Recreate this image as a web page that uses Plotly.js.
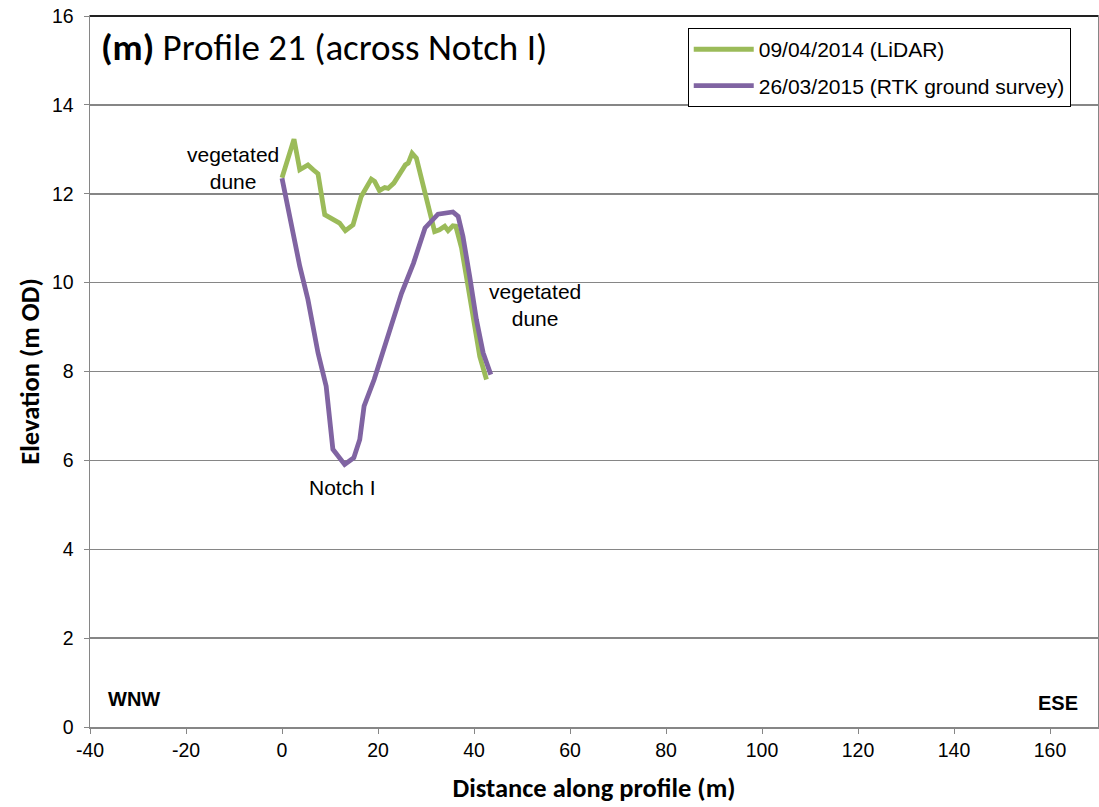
<!DOCTYPE html>
<html>
<head>
<meta charset="utf-8">
<script src="https://cdn.plot.ly/plotly-3.0.1.min.js"></script>
<style>html,body{margin:0;padding:0;background:#fff;}#chart{width:1099px;height:807px;}</style>
</head>
<body>
<div id="chart"></div>
<script>
// LiDAR profile 09/04/2014
const lidarDist = [0, 2.5, 3.7, 5.4, 6.5, 7.5, 8.9, 11.0, 12.0, 13.2, 14.8, 16.5, 18.6, 19.3, 20.3, 21.4, 22.1, 23.3, 24.7, 25.7, 26.3, 27.1, 28.0, 29.4, 30.8, 31.8, 32.8, 33.9, 34.6, 35.6, 36.2, 37.4, 38.75, 40.1, 41.2, 42.6];
const lidarElev = [12.36, 13.23, 12.54, 12.65, 12.54, 12.45, 11.53, 11.38, 11.34, 11.17, 11.3, 11.94, 12.33, 12.28, 12.07, 12.14, 12.12, 12.24, 12.5, 12.65, 12.69, 12.91, 12.8, 12.16, 11.57, 11.15, 11.19, 11.27, 11.17, 11.28, 11.27, 10.78, 9.92, 9.02, 8.34, 7.82];
// RTK ground survey 26/03/2015
const rtkDist = [0, 1.95, 3.7, 5.4, 7.5, 9.2, 10.6, 13.05, 14.96, 16.2, 17.1, 19.2, 21.75, 24.9, 27.4, 29.8, 32.5, 35.6, 36.7, 37.7, 39.1, 40.5, 41.9, 43.5];
const rtkElev = [12.35, 11.27, 10.37, 9.62, 8.42, 7.67, 6.25, 5.91, 6.06, 6.47, 7.22, 7.82, 8.72, 9.76, 10.44, 11.23, 11.54, 11.59, 11.49, 11.04, 10.14, 9.17, 8.42, 7.93];
const seriesNames = ["09/04/2014 (LiDAR)", "26/03/2015 (RTK ground survey)"];
const xTicks = [-40, -20, 0, 20, 40, 60, 80, 100, 120, 140, 160];
const yTicks = [0, 2, 4, 6, 8, 10, 12, 14, 16];

const traces = [
  {x: lidarDist, y: lidarElev, name: seriesNames[0], legendgroup: 'a', mode: 'lines', line: {color: '#9BBB59', width: 4.8}},
  {x: rtkDist, y: rtkElev, name: seriesNames[1], legendgroup: 'b', mode: 'lines', line: {color: '#8064A2', width: 4.8}}
];

const arial = 'Liberation Sans, Arial, sans-serif';
const calibri = 'Carlito, Calibri, Open Sans, sans-serif';

const layout = {
  width: 1099, height: 807,
  margin: {l: 90, r: 1, t: 16, b: 80},
  paper_bgcolor: '#fff', plot_bgcolor: '#fff',
  showlegend: true,
  legend: {
    x: 0.593, y: 0.983, xanchor: 'left', yanchor: 'top',
    bordercolor: '#000', borderwidth: 1, bgcolor: '#fff',
    font: {family: arial, size: 21, color: '#000'},
    tracegroupgap: 6, itemwidth: 60
  },
  xaxis: {
    range: [-40, 170], tickvals: xTicks, ticktext: xTicks.map(String),
    showgrid: false, zeroline: false,
    showline: true, linecolor: '#868686', linewidth: 1.5, mirror: true,
    ticks: 'outside', ticklen: 5, tickcolor: '#868686',
    tickfont: {family: arial, size: 19.5, color: '#000'},
    title: {text: '<b>Distance along profile (m)</b>', font: {family: calibri, size: 26.5, color: '#000'}, standoff: 18}
  },
  yaxis: {
    range: [0, 16], tickvals: yTicks, ticktext: yTicks.map(String),
    showgrid: true, gridcolor: '#868686', gridwidth: 1.5, zeroline: false,
    showline: true, linecolor: '#868686', linewidth: 1.5, mirror: true,
    ticks: 'outside', ticklen: 5, tickcolor: '#868686', ticklabelstandoff: 6,
    tickfont: {family: arial, size: 19.5, color: '#000'},
    title: {text: '<b>Elevation (m OD)</b>', font: {family: calibri, size: 26.5, color: '#000'}, standoff: 4}
  },
  shapes: [
    {type: 'line', xref: 'paper', yref: 'paper', x0: 0, x1: 1, y0: 1, y1: 1, line: {color: '#222', width: 2}}
  ],
  annotations: [
    {xref: 'paper', yref: 'paper', x: 0.009, y: 0.955, xanchor: 'left', yanchor: 'middle', showarrow: false,
     text: '<b>(m)</b> Profile 21 (across Notch I)', font: {family: calibri, size: 37, color: '#000'}},
    {xref: 'x', yref: 'y', x: -10.2, y: 12.58, xanchor: 'center', yanchor: 'middle', showarrow: false,
     text: 'vegetated<br>dune', font: {family: arial, size: 21, color: '#000'}},
    {xref: 'x', yref: 'y', x: 52.7, y: 9.5, xanchor: 'center', yanchor: 'middle', showarrow: false,
     text: 'vegetated<br>dune', font: {family: arial, size: 21, color: '#000'}},
    {xref: 'x', yref: 'y', x: 12.5, y: 5.38, xanchor: 'center', yanchor: 'middle', showarrow: false,
     text: 'Notch I', font: {family: arial, size: 21, color: '#000'}},
    {xref: 'paper', yref: 'paper', x: 0.016, y: 0.04, xanchor: 'left', yanchor: 'middle', showarrow: false,
     text: '<b>WNW</b>', font: {family: arial, size: 20, color: '#000'}},
    {xref: 'paper', yref: 'paper', x: 0.982, y: 0.034, xanchor: 'right', yanchor: 'middle', showarrow: false,
     text: '<b>ESE</b>', font: {family: arial, size: 20, color: '#000'}}
  ]
};

Plotly.newPlot('chart', traces, layout, {displayModeBar: false, staticPlot: true});
</script>
</body>
</html>
